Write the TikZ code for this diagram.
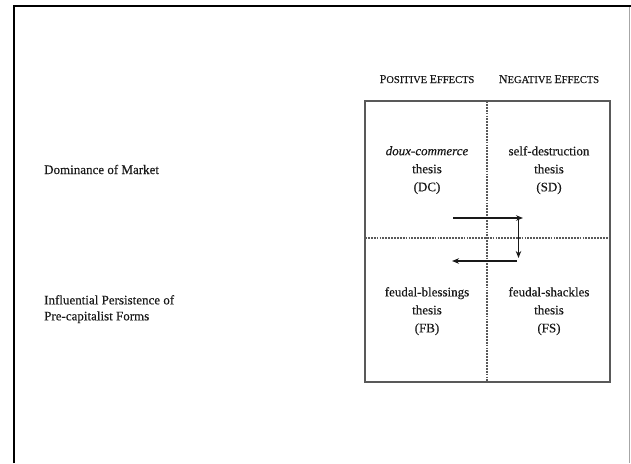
\documentclass[tikz,border=0pt]{standalone}
\usepackage{fontspec}
\setmainfont{Liberation Serif}[FakeBold=0.35]
\usetikzlibrary{arrows.meta}
\newcommand\hdbig[1]{{\fontsize{12}{14}\selectfont #1}}
\newcommand\hdsmall[1]{{\fontsize{10.5}{14}\selectfont #1}}
\begin{document}
\begin{tikzpicture}[x=1pt,y=-1pt,
  lbl/.style={font=\fontsize{13}{16}\selectfont, anchor=base west, inner sep=0, text=black!90},
  cell/.style={font=\fontsize{13}{18}\selectfont, align=center, anchor=north, inner sep=0, text=black!90},
  head/.style={anchor=base, inner sep=0, text=black!90},
  grid/.style={draw=black!65, line width=1.1pt},
  divider/.style={draw=black!65, line width=1.1pt, dash pattern=on 1.8pt off 1.1pt},
  flow/.style={draw=black!90, line width=1.3pt, -{Stealth[length=7pt,width=5.5pt]}},
  frame/.style={draw=black, line width=2.4pt},
  edge/.style={draw=black!35, line width=0.8pt}]
\useasboundingbox (0,0) rectangle (631,463);
% outer frame
\coordinate (fTL) at (14,6);
\coordinate (fBL) at (14,463);
\coordinate (fTR) at (631,6);
\coordinate (eT) at (629.5,7);
\coordinate (eB) at (629.5,463);
\draw[frame] (fBL) -- (fTL) -- (fTR);
\draw[edge] (eT) -- (eB);
% grid
\coordinate (bTL) at (365,101);
\coordinate (bBR) at (610,382);
\coordinate (vT) at (487,101);
\coordinate (vB) at (487,382);
\coordinate (hL) at (365,238);
\coordinate (hR) at (610,238);
\draw[grid] (bTL) rectangle (bBR);
\draw[divider] (vT) -- (vB);
\draw[divider] (hL) -- (hR);
% headers
\node[head] (pos) at (427,83) {\hdbig{P}\hdsmall{OSITIVE} \hdbig{E}\hdsmall{FFECTS}};
\node[head] (neg) at (549,83) {\hdbig{N}\hdsmall{EGATIVE} \hdbig{E}\hdsmall{FFECTS}};
% row labels
\node[lbl] (dom) at (44,174) {Dominance of Market};
\node[lbl, align=left, anchor=north west] (inf) at (44,295) {Influential Persistence of\\Pre-capitalist Forms};
% cells
\node[cell] (dc) at (427,146) {\textit{doux-commerce}\\thesis\\(DC)};
\node[cell] (sd) at (549,146) {self-destruction\\thesis\\(SD)};
\node[cell] (fb) at (427,287) {feudal-blessings\\thesis\\(FB)};
\node[cell] (fs) at (549,287) {feudal-shackles\\thesis\\(FS)};
% arrows
\coordinate (a1) at (453,218);
\coordinate (a2) at (523,218);
\coordinate (a3) at (518.5,219);
\coordinate (a4) at (518.5,258);
\coordinate (a5) at (517,261);
\coordinate (a6) at (452,261);
\draw[flow] (a1) -- (a2);
\draw[flow] (a3) -- (a4);
\draw[flow] (a5) -- (a6);
\end{tikzpicture}
\end{document}
